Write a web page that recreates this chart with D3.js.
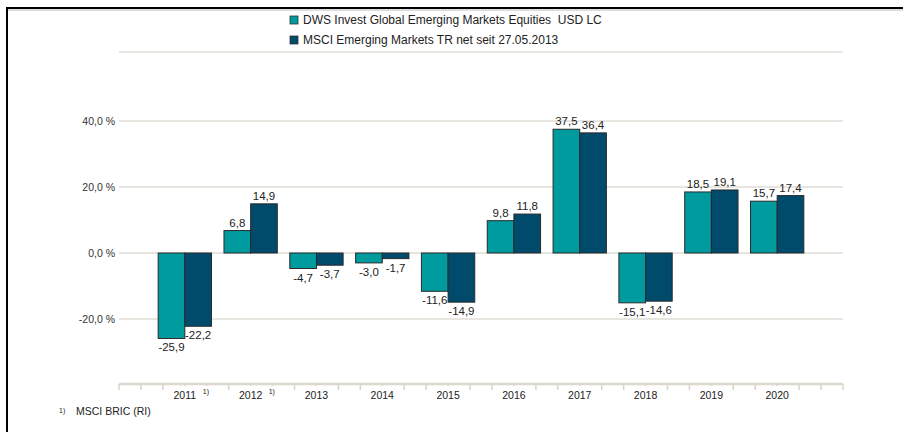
<!DOCTYPE html>
<html><head><meta charset="utf-8">
<script src="https://cdn.jsdelivr.net/npm/d3@7"></script>
<style>body{margin:0;background:#fff}svg{display:block;font-family:"Liberation Sans",Arial,sans-serif}text{white-space:pre}</style>
</head><body><svg id="c" width="903" height="432"></svg>
<script>
const years = ["2011","2012","2013","2014","2015","2016","2017","2018","2019","2020"];
const footnoted = ["2011","2012"];
const fund = [-25.9, 6.8, -4.7, -3.0, -11.6, 9.8, 37.5, -15.1, 18.5, 15.7];
const bench = [-22.2, 14.9, -3.7, -1.7, -14.9, 11.8, 36.4, -14.6, 19.1, 17.4];
const seriesNames = ["DWS Invest Global Emerging Markets Equities  USD LC", "MSCI Emerging Markets TR net seit 27.05.2013"];
const colors = ["#009b9f", "#004a6c"];
const yTicks = [-20, 0, 20, 40];
const footnoteText = "MSCI BRIC (RI)";

const svg = d3.select("#c");
const left = 119, right = 843;
const step = (right - left) / 11;
const x = d3.scaleBand().domain(years).range([left + step/2, right - step/2]).paddingInner(0.19).paddingOuter(0.095);
const x1 = d3.scaleBand().domain([0,1]).range([0, x.bandwidth()]);
const y = d3.scaleLinear().domain([-40, 40]).range([385, 121]);
const fmt = v => d3.format(".1f")(v).replace(".", ",").replace("−","-");

// frame
svg.append("line").attr("x1",6).attr("x2",903).attr("y1",8).attr("y2",8).attr("stroke","#000").attr("stroke-width",2);
svg.append("line").attr("x1",6).attr("x2",903).attr("y1",10).attr("y2",10).attr("stroke","#bbb").attr("stroke-width",1);
svg.append("line").attr("x1",7).attr("x2",7).attr("y1",7).attr("y2",432).attr("stroke","#000").attr("stroke-width",2);

// top light line under legend
svg.append("line").attr("x1",left).attr("x2",right).attr("y1",52).attr("y2",52).attr("stroke","#e3e0d9").attr("stroke-width",1.5);

// gridlines
svg.append("g").selectAll("line").data(yTicks).join("line")
  .attr("x1",left).attr("x2",right).attr("y1",d=>y(d)).attr("y2",d=>y(d))
  .attr("stroke","#e0ddd6").attr("stroke-width",1.5);
svg.append("g").selectAll("text").data(yTicks).join("text")
  .attr("x",115).attr("y",d=>y(d)).attr("dy","0.35em").attr("text-anchor","end")
  .attr("font-size",10.5).attr("fill","#333").text(d=>fmt(d)+" %");

// x axis line and minor ticks
const axisY = 384;
const tickPos = d3.range(0, 34).map(i => left + i*step/3);
svg.append("g").selectAll("line").data(tickPos).join("line")
  .attr("x1",d=>d).attr("x2",d=>d).attr("y1",axisY).attr("y2",axisY+6)
  .attr("stroke","#d8d4ca").attr("stroke-width",1.5);
svg.append("line").attr("x1",left).attr("x2",right).attr("y1",axisY).attr("y2",axisY).attr("stroke","#dcd8ce").attr("stroke-width",2.5);

// x labels with white background
const xl = svg.append("g");
years.forEach(yr => {
  const cx = x(yr) + x.bandwidth()/2;
  xl.append("rect").attr("x",cx-12).attr("y",axisY+2).attr("width",24).attr("height",12).attr("fill","#fff");
  xl.append("text").attr("x",cx).attr("y",axisY+15).attr("text-anchor","middle").attr("font-size",10.5).attr("fill","#222").text(yr);
  if (footnoted.includes(yr)) {
    xl.append("rect").attr("x",cx+17).attr("y",axisY+2).attr("width",10).attr("height",10).attr("fill","#fff");
    xl.append("text").attr("x",cx+18).attr("y",axisY+10).attr("font-size",7).attr("fill","#222").text("1)");
  }
});

// bars
const data = [fund, bench];
data.forEach((vals, s) => {
  const g = svg.append("g");
  g.selectAll("rect").data(vals).join("rect")
    .attr("x",(d,i)=>x(years[i]) + x1(s))
    .attr("width",x1.bandwidth())
    .attr("y",d=>y(Math.max(0,d)))
    .attr("height",d=>Math.abs(y(d)-y(0)))
    .attr("fill",colors[s]).attr("stroke","#2a2a2a").attr("stroke-width",1);
  g.selectAll("text").data(vals).join("text")
    .attr("x",(d,i)=>x(years[i]) + x1(s) + x1.bandwidth()/2)
    .attr("y",d=> d>=0 ? y(d)-4 : y(d)+13)
    .attr("text-anchor","middle").attr("font-size",11.5).attr("fill","#222")
    .text(d=>fmt(d));
});

// legend
const lg = svg.append("g");
seriesNames.forEach((n,i) => {
  const ly = 20 + i*20;
  lg.append("rect").attr("x",290).attr("y",ly-4).attr("width",8).attr("height",8).attr("fill",colors[i]).attr("stroke","#333").attr("stroke-width",0.8);
  lg.append("text").attr("x",303).attr("y",ly).attr("dy","0.35em").attr("font-size",12).attr("fill","#222").text(n);
});

// footnote
svg.append("text").attr("x",59).attr("y",413).attr("font-size",7).attr("fill","#222").text("1)");
svg.append("text").attr("x",76).attr("y",415).attr("font-size",10.5).attr("fill","#222").text(footnoteText);
</script></body></html>
